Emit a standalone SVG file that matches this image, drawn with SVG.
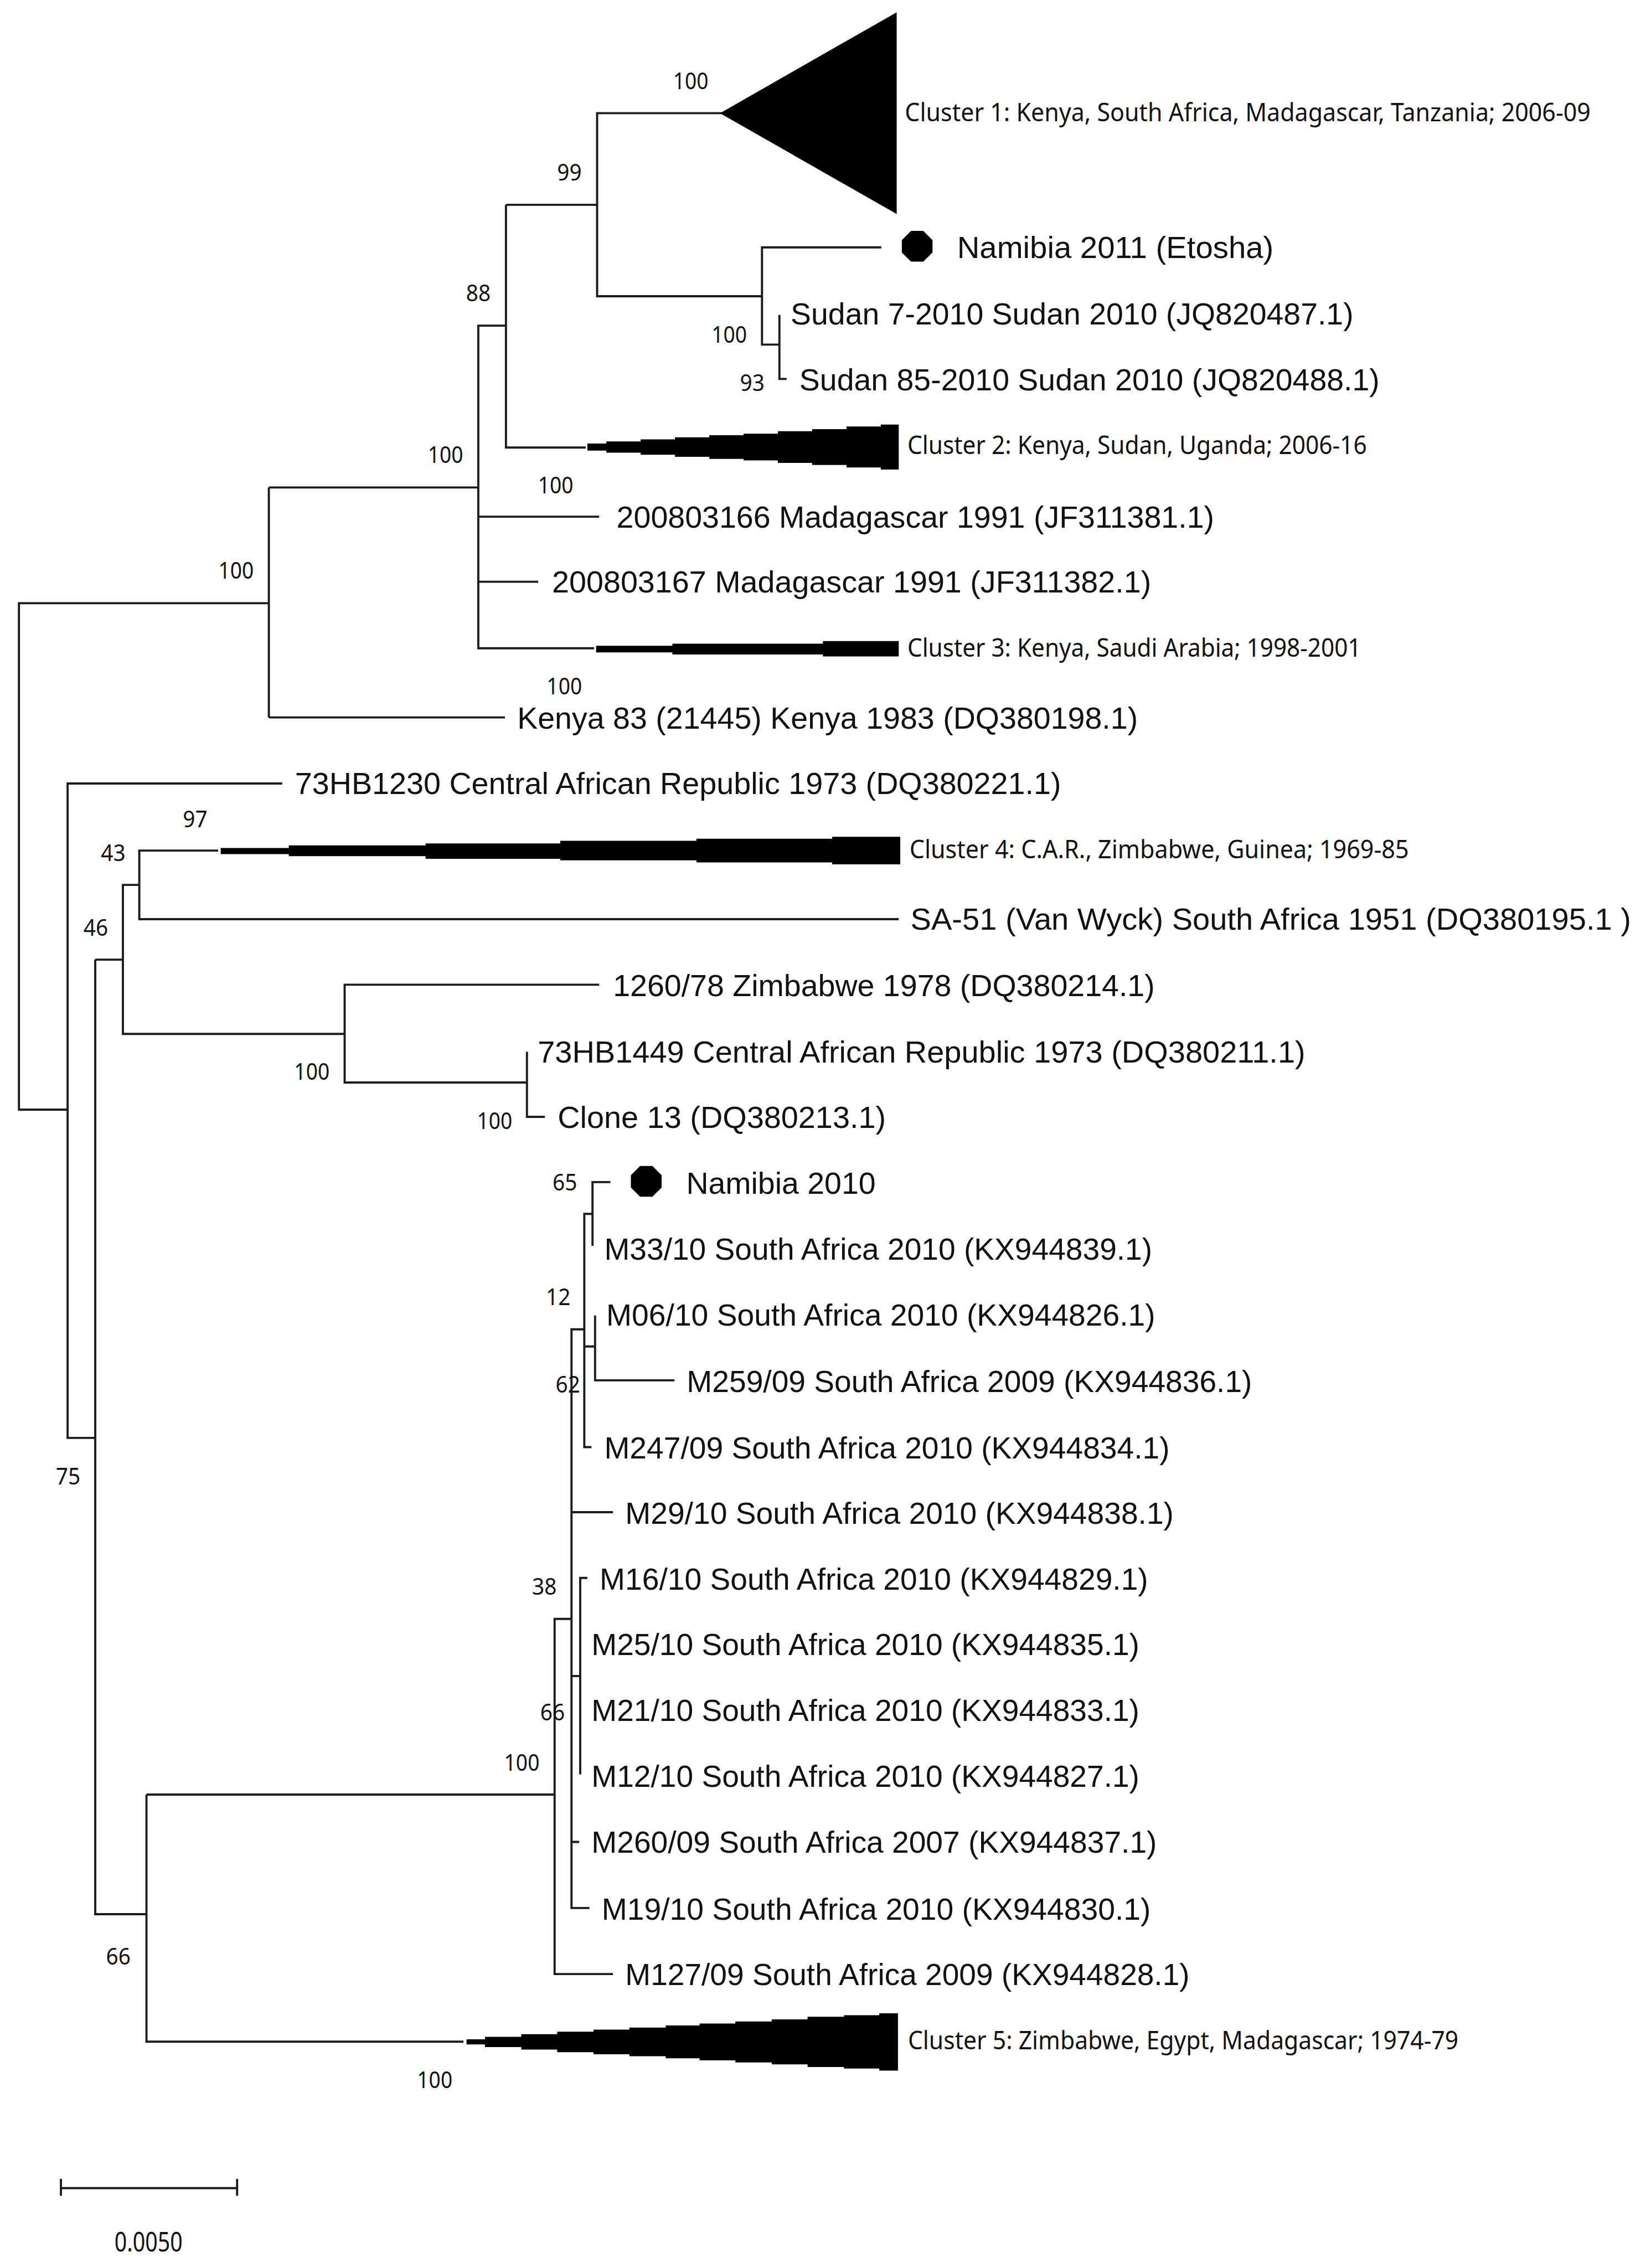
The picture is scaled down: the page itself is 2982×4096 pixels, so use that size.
<svg xmlns="http://www.w3.org/2000/svg" width="2982" height="4096" viewBox="0 0 2982 4096">
<style>
text{fill:#111}
.leaf{font-family:"Liberation Sans",Arial,sans-serif;font-size:60px}
.clu{font-family:"Noto Sans",sans-serif;font-size:50px}
.bs{font-family:"Noto Sans",sans-serif;font-size:46px;text-anchor:middle}
.tri{fill:#000}
.ln{fill:none;stroke:#1c1c1c;stroke-width:4.2}
</style>
<defs><polygon id="oct" points="-12,-30 12,-30 30,-12 30,12 12,30 -12,30 -30,12 -30,-12" fill="#000"/></defs>
<rect width="2982" height="4096" fill="#fff"/>
<g transform="scale(0.92494 0.92481)">
<g id="connectors" class="ln">
<path d="M525 1178H37V2167H132"/>
<path d="M525 952V1401M934 952H525M986 1401H525"/>
<path d="M988 636H934V1266H1160M1170 1009H934M1051 1136H934"/>
<path d="M1166 400H988M988 400V874H1144"/>
<path d="M1410 221H1166V578.5H1488"/>
<path d="M1721 483H1488V673H1522"/>
<path d="M1522 615V740H1536"/>
<path d="M551 1530H132V2808H186"/>
<path d="M241 1874H186M186 1874V3738H286"/>
<path d="M272 1728H240V2019H673"/>
<path d="M426 1661H272V1795H1755"/>
<path d="M1170 1923H673V2114H1029"/>
<path d="M1029 2054V2181H1064"/>
<path d="M286 3504.5V3987H905M1083 3504.5H286"/>
<path d="M1116 3161.5H1083V3855H1197"/>
<path d="M1141 2596H1116V3726H1151M1197 2953H1116M1133 3273H1116M1131 3597H1116"/>
<path d="M1157 2370.5H1141V2826H1155M1162 2629.5H1141"/>
<path d="M1192 2308.5H1157V2433"/>
<path d="M1162 2569V2695.5H1317"/>
<path d="M1147 3081.5H1133V3465"/>
</g>
<g id="cluster1"><polygon class="tri" points="1406,221 1751,24 1751,418"/><text class="clu" x="1767" y="237" textLength="1339" lengthAdjust="spacingAndGlyphs">Cluster 1: Kenya, South Africa, Madagascar, Tanzania; 2006-09</text></g>
<g id="cluster2"><polygon class="tri" points="1147,866 1184,866 1184,862 1251,862 1251,858 1318,858 1318,854 1385,854 1385,850 1452,850 1452,847 1519,847 1519,842 1586,842 1586,838 1653,838 1653,833 1720,833 1720,829 1755,829 1755,917 1720,917 1720,913 1653,913 1653,908 1586,908 1586,904 1519,904 1519,899 1452,899 1452,896 1385,896 1385,892 1318,892 1318,888 1251,888 1251,884 1184,884 1184,880 1147,880"/><text class="clu" x="1772" y="887" textLength="897" lengthAdjust="spacingAndGlyphs">Cluster 2: Kenya, Sudan, Uganda; 2006-16</text></g>
<g id="cluster3"><polygon class="tri" points="1164,1261 1313,1261 1313,1257 1607,1257 1607,1252 1755,1252 1755,1282 1607,1282 1607,1278 1313,1278 1313,1274 1164,1274"/><text class="clu" x="1772" y="1282" textLength="886" lengthAdjust="spacingAndGlyphs">Cluster 3: Kenya, Saudi Arabia; 1998-2001</text></g>
<g id="cluster4"><polygon class="tri" points="431,1656 564,1656 564,1651 831,1651 831,1647 1094,1647 1094,1642 1360,1642 1360,1638 1625,1638 1625,1634 1758,1634 1758,1688 1625,1688 1625,1684 1360,1684 1360,1680 1094,1680 1094,1677 831,1677 831,1672 564,1672 564,1668 431,1668"/><text class="clu" x="1776" y="1676" textLength="975" lengthAdjust="spacingAndGlyphs">Cluster 4: C.A.R., Zimbabwe, Guinea; 1969-85</text></g>
<g id="cluster5"><polygon class="tri" points="911,3982.5 947,3982.5 947,3977.5 1018,3977.5 1018,3972.5 1088,3972.5 1088,3967.5 1159,3967.5 1159,3963.5 1229,3963.5 1229,3959.5 1300,3959.5 1300,3955.5 1366,3955.5 1366,3951.5 1436,3951.5 1436,3947.5 1507,3947.5 1507,3943.5 1577,3943.5 1577,3938.5 1648,3938.5 1648,3935.5 1717,3935.5 1717,3931.5 1753.5,3931.5 1753.5,4043.5 1717,4043.5 1717,4039.5 1648,4039.5 1648,4036.5 1577,4036.5 1577,4031.5 1507,4031.5 1507,4027.5 1436,4027.5 1436,4023.5 1366,4023.5 1366,4019.5 1300,4019.5 1300,4015.5 1229,4015.5 1229,4011.5 1159,4011.5 1159,4007.5 1088,4007.5 1088,4002.5 1018,4002.5 1018,3997.5 947,3997.5 947,3992.5 911,3992.5"/><text class="clu" x="1773" y="4002" textLength="1075" lengthAdjust="spacingAndGlyphs">Cluster 5: Zimbabwe, Egypt, Madagascar; 1974-79</text></g>
<g id="namibia2011"><use href="#oct" x="1791" y="481"/><text class="leaf" x="1869" y="504" textLength="618" lengthAdjust="spacingAndGlyphs">Namibia 2011 (Etosha)</text></g>
<g id="sudan7"><text class="leaf" x="1544" y="634" textLength="1099" lengthAdjust="spacingAndGlyphs">Sudan 7-2010 Sudan 2010 (JQ820487.1)</text></g>
<g id="sudan85"><text class="leaf" x="1561" y="762" textLength="1133" lengthAdjust="spacingAndGlyphs">Sudan 85-2010 Sudan 2010 (JQ820488.1)</text></g>
<g id="mad166"><text class="leaf" x="1204" y="1030" textLength="1167" lengthAdjust="spacingAndGlyphs">200803166 Madagascar 1991 (JF311381.1)</text></g>
<g id="mad167"><text class="leaf" x="1078" y="1157" textLength="1170" lengthAdjust="spacingAndGlyphs">200803167 Madagascar 1991 (JF311382.1)</text></g>
<g id="kenya83"><text class="leaf" x="1010" y="1423" textLength="1212" lengthAdjust="spacingAndGlyphs">Kenya 83 (21445) Kenya 1983 (DQ380198.1)</text></g>
<g id="hb1230"><text class="leaf" x="576" y="1551" textLength="1496" lengthAdjust="spacingAndGlyphs">73HB1230 Central African Republic 1973 (DQ380221.1)</text></g>
<g id="sa51"><text class="leaf" x="1778" y="1816" textLength="1407" lengthAdjust="spacingAndGlyphs">SA-51 (Van Wyck) South Africa 1951 (DQ380195.1 )</text></g>
<g id="z1260"><text class="leaf" x="1197" y="1945" textLength="1058" lengthAdjust="spacingAndGlyphs">1260/78 Zimbabwe 1978 (DQ380214.1)</text></g>
<g id="hb1449"><text class="leaf" x="1050" y="2075" textLength="1499" lengthAdjust="spacingAndGlyphs">73HB1449 Central African Republic 1973 (DQ380211.1)</text></g>
<g id="clone13"><text class="leaf" x="1089" y="2203" textLength="641" lengthAdjust="spacingAndGlyphs">Clone 13 (DQ380213.1)</text></g>
<g id="namibia2010"><use href="#oct" x="1262" y="2307"/><text class="leaf" x="1340" y="2331" textLength="370" lengthAdjust="spacingAndGlyphs">Namibia 2010</text></g>
<g id="m33"><text class="leaf" x="1180" y="2460" textLength="1070" lengthAdjust="spacingAndGlyphs">M33/10 South Africa 2010 (KX944839.1)</text></g>
<g id="m06"><text class="leaf" x="1184" y="2589" textLength="1072" lengthAdjust="spacingAndGlyphs">M06/10 South Africa 2010 (KX944826.1)</text></g>
<g id="m259"><text class="leaf" x="1341" y="2718" textLength="1104" lengthAdjust="spacingAndGlyphs">M259/09 South Africa 2009 (KX944836.1)</text></g>
<g id="m247"><text class="leaf" x="1180" y="2848" textLength="1104" lengthAdjust="spacingAndGlyphs">M247/09 South Africa 2010 (KX944834.1)</text></g>
<g id="m29"><text class="leaf" x="1221" y="2976" textLength="1071" lengthAdjust="spacingAndGlyphs">M29/10 South Africa 2010 (KX944838.1)</text></g>
<g id="m16"><text class="leaf" x="1171" y="3104" textLength="1071" lengthAdjust="spacingAndGlyphs">M16/10 South Africa 2010 (KX944829.1)</text></g>
<g id="m25"><text class="leaf" x="1155" y="3232" textLength="1070" lengthAdjust="spacingAndGlyphs">M25/10 South Africa 2010 (KX944835.1)</text></g>
<g id="m21"><text class="leaf" x="1155" y="3361" textLength="1070" lengthAdjust="spacingAndGlyphs">M21/10 South Africa 2010 (KX944833.1)</text></g>
<g id="m12"><text class="leaf" x="1155" y="3489" textLength="1070" lengthAdjust="spacingAndGlyphs">M12/10 South Africa 2010 (KX944827.1)</text></g>
<g id="m260"><text class="leaf" x="1155" y="3618" textLength="1104" lengthAdjust="spacingAndGlyphs">M260/09 South Africa 2007 (KX944837.1)</text></g>
<g id="m19"><text class="leaf" x="1175" y="3749" textLength="1072" lengthAdjust="spacingAndGlyphs">M19/10 South Africa 2010 (KX944830.1)</text></g>
<g id="m127"><text class="leaf" x="1221" y="3877" textLength="1102" lengthAdjust="spacingAndGlyphs">M127/09 South Africa 2009 (KX944828.1)</text></g>
<g id="bootstrap">
<text class="bs" x="1349" y="174" textLength="69" lengthAdjust="spacingAndGlyphs">100</text>
<text class="bs" x="1112" y="352" textLength="48" lengthAdjust="spacingAndGlyphs">99</text>
<text class="bs" x="934" y="588" textLength="48" lengthAdjust="spacingAndGlyphs">88</text>
<text class="bs" x="1424" y="669" textLength="69" lengthAdjust="spacingAndGlyphs">100</text>
<text class="bs" x="1469" y="763" textLength="48" lengthAdjust="spacingAndGlyphs">93</text>
<text class="bs" x="1085" y="963" textLength="69" lengthAdjust="spacingAndGlyphs">100</text>
<text class="bs" x="870" y="904" textLength="69" lengthAdjust="spacingAndGlyphs">100</text>
<text class="bs" x="461" y="1130" textLength="69" lengthAdjust="spacingAndGlyphs">100</text>
<text class="bs" x="1102" y="1356" textLength="69" lengthAdjust="spacingAndGlyphs">100</text>
<text class="bs" x="381" y="1615" textLength="48" lengthAdjust="spacingAndGlyphs">97</text>
<text class="bs" x="221" y="1681" textLength="48" lengthAdjust="spacingAndGlyphs">43</text>
<text class="bs" x="187" y="1827" textLength="48" lengthAdjust="spacingAndGlyphs">46</text>
<text class="bs" x="609" y="2109" textLength="69" lengthAdjust="spacingAndGlyphs">100</text>
<text class="bs" x="966" y="2205" textLength="69" lengthAdjust="spacingAndGlyphs">100</text>
<text class="bs" x="1103" y="2325" textLength="48" lengthAdjust="spacingAndGlyphs">65</text>
<text class="bs" x="1090" y="2549" textLength="48" lengthAdjust="spacingAndGlyphs">12</text>
<text class="bs" x="1109" y="2720" textLength="48" lengthAdjust="spacingAndGlyphs">62</text>
<text class="bs" x="1063" y="3114" textLength="48" lengthAdjust="spacingAndGlyphs">38</text>
<text class="bs" x="1079" y="3360" textLength="48" lengthAdjust="spacingAndGlyphs">66</text>
<text class="bs" x="1019" y="3458" textLength="69" lengthAdjust="spacingAndGlyphs">100</text>
<text class="bs" x="133" y="2899" textLength="48" lengthAdjust="spacingAndGlyphs">75</text>
<text class="bs" x="231" y="3837" textLength="48" lengthAdjust="spacingAndGlyphs">66</text>
<text class="bs" x="849" y="4078" textLength="69" lengthAdjust="spacingAndGlyphs">100</text>
</g>
<g id="scale-bar"><path class="ln" d="M119 4255V4288M463 4255V4288M119 4273H463"/><text class="bs" style="font-size:54px" x="290" y="4397" textLength="133" lengthAdjust="spacingAndGlyphs">0.0050</text></g>
</g>
</svg>
